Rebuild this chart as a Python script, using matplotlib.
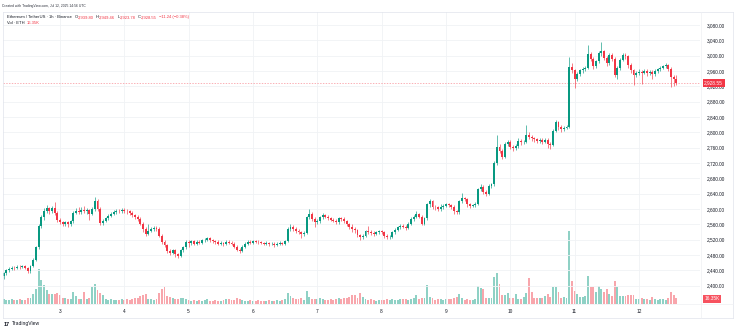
import matplotlib
matplotlib.use("Agg")
import matplotlib.pyplot as plt
import matplotlib.transforms as mtransforms
import numpy as np

# ---------------- data (ETH/USDT 1h, Binance, Jul 2 03:00 -> Jul 12 14:00 UTC) ----------------
first_open = 2425.0
closes = [
    2432, 2440, 2444, 2447, 2446, 2450, 2448, 2451, 2447, 2438, 2452, 2468, 2500, 2556, 2578, 2596, 2602, 2595, 2603, 2590, 2572,
    2566, 2562, 2565, 2560, 2568, 2590, 2596, 2592, 2598, 2594, 2597, 2588, 2600, 2622, 2600, 2563, 2570, 2576, 2582, 2588, 2592, 2596, 2594, 2598,
    2596, 2594, 2590, 2584, 2578, 2575, 2562, 2548, 2535, 2544, 2548, 2550, 2548, 2530, 2515, 2505, 2490, 2486, 2492, 2482, 2478, 2492, 2500, 2514,
    2512, 2516, 2510, 2514, 2512, 2518, 2520, 2524, 2518, 2516, 2514, 2510, 2512, 2508, 2514, 2512, 2510, 2502, 2494, 2490, 2502, 2510, 2514, 2512,
    2516, 2515, 2514, 2512, 2510, 2512, 2508, 2510, 2506, 2510, 2512, 2510, 2516, 2548, 2554, 2548, 2544, 2540, 2534, 2538, 2578, 2586, 2574, 2566,
    2568, 2578, 2584, 2580, 2576, 2572, 2570, 2566, 2576, 2574, 2568, 2560, 2554, 2548, 2545, 2532, 2528, 2530, 2542, 2540, 2538, 2536, 2539, 2542,
    2540, 2530, 2526, 2528, 2540, 2546, 2552, 2556, 2554, 2550, 2562, 2574, 2580, 2586, 2580, 2562, 2576, 2612, 2620, 2606, 2604, 2600, 2604, 2608,
    2612, 2610, 2606, 2594, 2592, 2620, 2628, 2626, 2612, 2608, 2610, 2614, 2652, 2658, 2645, 2640, 2660, 2664, 2720, 2762, 2752, 2736, 2770, 2775,
    2762, 2758, 2764, 2778, 2774, 2776, 2792, 2788, 2784, 2782, 2778, 2780, 2776, 2780, 2770, 2768, 2804, 2826, 2814, 2808, 2812, 2815, 2970, 2962,
    2940, 2952, 2962, 2966, 2968, 3004, 2992, 2972, 2985, 3006, 3012, 2995, 2980, 3002, 2992, 2950, 2968, 2990, 3002, 2998, 2975, 2962, 2950, 2955,
    2958, 2956, 2960, 2955, 2958, 2952, 2960, 2964, 2968, 2972, 2975, 2966, 2944, 2939.80, 2928.55,
]
highs = [
    2436, 2443, 2448, 2451, 2452, 2454, 2453, 2455, 2454, 2450, 2455, 2472, 2504, 2560, 2584, 2602, 2610, 2606, 2608, 2618, 2594,
    2576, 2570, 2570, 2569, 2572, 2596, 2602, 2606, 2604, 2608, 2603, 2600, 2606, 2631, 2626, 2604, 2574, 2580, 2586, 2592, 2598, 2601, 2600, 2602,
    2603, 2600, 2598, 2594, 2588, 2584, 2578, 2566, 2552, 2560, 2553, 2555, 2556, 2552, 2534, 2519, 2508, 2495, 2497, 2496, 2486, 2496, 2504, 2518,
    2518, 2520, 2520, 2518, 2518, 2522, 2524, 2528, 2527, 2521, 2519, 2518, 2516, 2515, 2518, 2518, 2516, 2513, 2506, 2498, 2505, 2514, 2518, 2518,
    2520, 2520, 2518, 2517, 2515, 2516, 2515, 2514, 2513, 2514, 2516, 2515, 2520, 2552, 2560, 2558, 2552, 2548, 2544, 2542, 2582, 2600, 2592, 2578,
    2573, 2582, 2590, 2588, 2584, 2580, 2576, 2574, 2580, 2580, 2578, 2572, 2564, 2560, 2552, 2548, 2536, 2535, 2546, 2555, 2546, 2542, 2543, 2546,
    2546, 2544, 2534, 2533, 2544, 2550, 2556, 2562, 2560, 2558, 2566, 2578, 2584, 2596, 2590, 2584, 2580, 2616, 2625, 2623, 2610, 2608, 2614, 2612,
    2616, 2616, 2614, 2610, 2598, 2624, 2642, 2632, 2630, 2616, 2614, 2618, 2656, 2664, 2662, 2650, 2664, 2668, 2724, 2793, 2770, 2756, 2774, 2780,
    2779, 2766, 2770, 2784, 2782, 2780, 2818, 2800, 2792, 2788, 2786, 2784, 2784, 2786, 2784, 2774, 2808, 2832, 2830, 2818, 2816, 2820, 2996, 2980,
    2966, 2958, 2966, 2970, 2974, 3028, 3010, 2996, 2990, 3012, 3036, 3016, 2998, 3008, 3006, 2996, 2974, 2995, 3008, 3006, 3002, 2980, 2966, 2960,
    2964, 2962, 2966, 2964, 2962, 2963, 2965, 2968, 2972, 2976, 2980, 2978, 2970, 2950, 2949.46,
]
lows = [
    2418, 2428, 2436, 2440, 2442, 2443, 2444, 2445, 2443, 2432, 2434, 2449, 2465, 2496, 2550, 2572, 2590, 2588, 2590, 2585, 2566,
    2560, 2556, 2556, 2554, 2556, 2564, 2586, 2588, 2588, 2590, 2588, 2572, 2584, 2596, 2596, 2558, 2558, 2566, 2572, 2578, 2584, 2588, 2589, 2590,
    2590, 2588, 2585, 2580, 2574, 2570, 2558, 2540, 2530, 2532, 2540, 2544, 2543, 2526, 2510, 2500, 2486, 2480, 2482, 2476, 2472, 2474, 2488, 2496,
    2500, 2506, 2506, 2506, 2508, 2508, 2514, 2516, 2514, 2512, 2510, 2506, 2507, 2504, 2505, 2508, 2506, 2498, 2490, 2486, 2487, 2499, 2506, 2508,
    2508, 2511, 2510, 2508, 2506, 2507, 2504, 2505, 2502, 2503, 2507, 2506, 2507, 2513, 2544, 2543, 2538, 2535, 2524, 2530, 2535, 2574, 2570, 2554,
    2560, 2564, 2574, 2576, 2572, 2568, 2566, 2561, 2562, 2568, 2564, 2555, 2548, 2540, 2538, 2526, 2518, 2522, 2526, 2535, 2532, 2530, 2532, 2535,
    2535, 2525, 2522, 2522, 2525, 2536, 2542, 2548, 2550, 2545, 2547, 2558, 2570, 2576, 2576, 2558, 2558, 2572, 2606, 2600, 2598, 2596, 2596, 2600,
    2604, 2605, 2600, 2588, 2586, 2588, 2616, 2620, 2606, 2602, 2604, 2606, 2610, 2648, 2640, 2634, 2636, 2656, 2660, 2716, 2746, 2730, 2732, 2764,
    2756, 2752, 2754, 2760, 2768, 2770, 2772, 2782, 2778, 2776, 2772, 2772, 2770, 2772, 2760, 2756, 2764, 2800, 2806, 2802, 2804, 2808, 2812, 2955,
    2915, 2934, 2946, 2956, 2960, 2964, 2986, 2966, 2968, 2980, 3000, 2988, 2972, 2976, 2986, 2944, 2940, 2962, 2986, 2992, 2968, 2955, 2924, 2944,
    2950, 2926, 2952, 2948, 2950, 2940, 2948, 2955, 2960, 2964, 2968, 2960, 2918, 2920, 2923.78,
]
volumes_k = [
    13.5, 11, 11, 13.5, 11, 11, 13.5, 11, 11, 16, 16, 27, 40, 95, 65, 51, 38, 27, 27, 27, 30,
    24, 16, 16, 13.5, 13.5, 32, 22, 13.5, 13.5, 32, 13.5, 16, 46, 54, 38, 30, 24, 13.5, 11, 13.5, 11, 11, 11, 13.5,
    11, 13.5, 11, 13.5, 16, 16, 22, 24, 27, 13.5, 13.5, 11, 13.5, 30, 40, 46, 22, 19, 16, 13.5, 13.5, 16, 16, 13.5,
    11, 8, 11, 8, 11, 8, 11, 13.5, 8, 8, 11, 8, 8, 11, 13.5, 13.5, 11, 11, 16, 13.5, 11, 8, 8, 11,
    8, 8, 11, 8, 8, 8, 11, 8, 8, 11, 8, 11, 13.5, 30, 22, 16, 13.5, 13.5, 16, 11, 35, 19, 13.5, 13.5,
    13.5, 16, 13.5, 11, 11, 13.5, 11, 13.5, 16, 13.5, 16, 16, 19, 24, 24, 16, 30, 19, 13.5, 11, 13.5, 11, 8, 11,
    11, 11, 13.5, 11, 13.5, 11, 11, 13.5, 13.5, 13.5, 11, 13.5, 16, 24, 13.5, 16, 16, 51, 19, 16, 11, 13.5, 13.5, 11,
    13.5, 13.5, 13.5, 16, 19, 27, 16, 11, 13.5, 11, 11, 13.5, 49, 43, 40, 16, 16, 16, 73, 84, 54, 24, 24, 30,
    16, 16, 27, 13.5, 13.5, 19, 30, 70, 32, 16, 16, 16, 16, 22, 27, 19, 46, 46, 32, 16, 19, 16, 197, 62,
    35, 27, 19, 19, 22, 76, 46, 46, 32, 49, 40, 32, 40, 27, 22, 62, 46, 22, 22, 22, 24, 24, 24, 13.5,
    13.5, 16, 13.5, 13.5, 11, 19, 13.5, 11, 13.5, 13.5, 11, 16, 32, 24, 16.35,
]
day_labels = ["3", "4", "5", "6", "7", "8", "9", "10", "11", "12"]
day_start_index = [21, 45, 69, 93, 117, 141, 165, 189, 213, 237]
price_ticks = list(range(2400, 3081, 40))
last_price = 2928.55
last_volume_k = 16.35

# ---------------- styling ----------------
UP = "#089981"
DOWN = "#F23645"
UP_V = "#8FD1C5"
DOWN_V = "#F8A6AC"
TXT = "#131722"
GRID = "#F0F2F5"
FONT = "Liberation Sans"
plt.rcParams["font.family"] = [FONT, "DejaVu Sans"]

W, H = 736, 331
fig = plt.figure(figsize=(W / 100, H / 100), dpi=100)
fig.patch.set_facecolor("white")

L, R, T, B = 3, 700, 12, 304
pos = [L / W, 1 - B / H, (R - L) / W, (B - T) / H]

n = len(closes)
idx = np.arange(n)
c = np.array(closes, dtype=float)
o = np.concatenate([[first_open], c[:-1]])
hi = np.maximum(np.array(highs, dtype=float), np.maximum(o, c))
lo = np.minimum(np.array(lows, dtype=float), np.minimum(o, c))
vol = np.array(volumes_k, dtype=float)
up = c >= o

xlim = (-0.26, 259.8)

# volume axes (below)
axv = fig.add_axes(pos)
axv.set_xlim(*xlim)
axv.set_ylim(0, 788)
axv.bar(idx, vol, width=0.72, color=np.where(up, UP_V, DOWN_V), linewidth=0)
axv.set_facecolor("white")
for s in axv.spines.values():
    s.set_visible(False)
axv.set_xticks([])
axv.set_yticks([])

# price axes (on top)
ax = fig.add_axes(pos)
ax.set_facecolor("none")
ax.set_xlim(*xlim)
ax.set_ylim(2352.3, 3113.9)

trans = mtransforms.blended_transform_factory(ax.transAxes, ax.transData)
for p in price_ticks:
    ax.plot([0, 1], [p, p], transform=trans, color=GRID, lw=0.6, zorder=0)
for d in day_start_index:
    ax.axvline(d, color=GRID, lw=0.6, zorder=0)

body_lo = np.minimum(o, c)
body_h = np.maximum(np.abs(c - o), 0.8)
colors = np.where(up, UP, DOWN)
ax.vlines(idx, lo, hi, colors=colors, lw=0.45, zorder=2)
ax.bar(idx, body_h, bottom=body_lo, width=0.72, color=colors, linewidth=0, zorder=3)

# last price dashed line
ax.axhline(last_price, color=DOWN, lw=0.5, ls=(0, (2, 2)), alpha=0.55, zorder=1)

ax.yaxis.tick_right()
ax.set_yticks(price_ticks)
ax.set_yticklabels([f"{p:,.2f}" for p in price_ticks])
ax.tick_params(axis="y", length=0, pad=5.2, labelsize=3.4, colors=TXT)
ax.set_xticks(day_start_index)
ax.set_xticklabels(day_labels)
ax.tick_params(axis="x", length=0, pad=3.8, labelsize=3.4, colors=TXT)
for s in ax.spines.values():
    s.set_visible(False)

# price label box
ax.text(1.006, last_price, f"{last_price:,.2f}", transform=trans, ha="left", va="center",
        fontsize=3.4, color="white", clip_on=False, zorder=5,
        bbox=dict(boxstyle="square,pad=0.35", fc=DOWN, ec="none"))
# volume label box
transv = mtransforms.blended_transform_factory(axv.transAxes, axv.transData)
ax.text(1.006, last_volume_k - 2, f"{last_volume_k:.2f}K", transform=transv, ha="left", va="center",
        fontsize=3.4, color="white", clip_on=False, zorder=5,
        bbox=dict(boxstyle="square,pad=0.35", fc="#F7525F", ec="none"))

# frame lines
def px_line(x0, y0, x1, y1, color="#E0E3EB", lw=0.5):
    fig.add_artist(plt.Line2D([x0 / W, x1 / W], [1 - y0 / H, 1 - y1 / H], color=color, lw=lw))

px_line(3, 12, 733, 12)
px_line(3, 318, 733, 318)
px_line(3, 12, 3, 318)
px_line(733, 12, 733, 318)
px_line(3, 304, 733, 304, color="#EEF0F3")
px_line(701, 12, 701, 318, color="#EEF0F3")

# header texts placed sequentially
renderer = fig.canvas.get_renderer()

def seq_text(x, y, parts, size):
    for s, col, gap in parts:
        t = fig.text(x / W, 1 - y / H, s, color=col, fontsize=size, va="center", ha="left")
        bb = t.get_window_extent(renderer)
        x = bb.x1 + gap

fig.text(2 / W, 1 - 6 / H, "Created with TradingView.com, Jul 12, 2025 14:56 UTC",
         color="#2A2E39", fontsize=2.45, va="center", ha="left")

seq_text(7, 17.3, [
    ("Ethereum / TetherUS · 1h · Binance", TXT, 2.6),
    ("O", TXT, 0.3), ("2,939.80", DOWN, 1.9),
    ("H", TXT, 0.3), ("2,949.46", DOWN, 1.9),
    ("L", TXT, 0.3), ("2,923.78", DOWN, 1.9),
    ("C", TXT, 0.3), ("2,928.55", DOWN, 1.9),
    ("\u221211.24 (\u22120.38%)", DOWN, 0),
], size=3.0)
seq_text(7, 23.5, [
    ("Vol · ETH", TXT, 2.4), ("16.35K", DOWN, 0),
], size=3.0)

# TradingView logo
fig.text(4 / W, 1 - 324 / H, "17", color=TXT, fontsize=4.0, weight="bold", va="center", ha="left")
fig.text(12 / W, 1 - 324 / H, "TradingView", color=TXT, fontsize=3.6, va="center", ha="left")

fig.savefig("out.png", dpi=100, facecolor="white")
